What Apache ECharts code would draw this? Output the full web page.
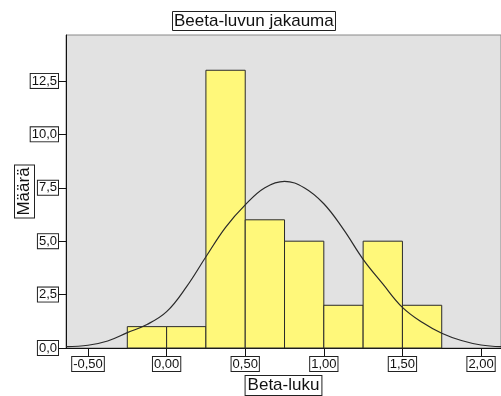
<!DOCTYPE html>
<html><head><meta charset="utf-8">
<script src="https://cdn.jsdelivr.net/npm/echarts@6/dist/echarts.min.js"></script>
<style>html,body{margin:0;padding:0;background:#fff}#c{width:501px;height:396px}</style>
</head><body><div id="c"></div>
<script>
const binStart = [-0.25, 0, 0.25, 0.5, 0.75, 1.0, 1.25, 1.5];
const binEnd   = [0, 0.25, 0.5, 0.75, 1.0, 1.25, 1.5, 1.75];
const counts   = [1, 1, 13, 6, 5, 2, 5, 2];
const curveX = [-0.64, -0.5, -0.375, -0.25, -0.125, 0, 0.125, 0.25, 0.375, 0.5, 0.625, 0.75, 0.875, 1.0, 1.125, 1.25, 1.375, 1.5, 1.625, 1.75, 1.875, 2.0, 2.13];
const curveY = [0.06, 0.13, 0.33, 0.72, 1.1, 1.7, 2.85, 4.27, 5.65, 6.7, 7.5, 7.8, 7.5, 6.75, 5.55, 4.15, 3.0, 1.9, 1.2, 0.69, 0.35, 0.14, 0.06];
const xTicks = [-0.5, 0, 0.5, 1.0, 1.5, 2.0];
const yTicks = [0, 2.5, 5, 7.5, 10, 12.5];

const fmt = (v, d) => v.toFixed(d).replace('.', ',');
const FONT = 'Arial, "Liberation Sans", sans-serif';
const boxLabel = {
  color: '#111', fontFamily: FONT, fontSize: 13,
  borderColor: '#222', borderWidth: 1, padding: [1, 1, 0, 1], backgroundColor: '#fff'
};

const chart = echarts.init(document.getElementById('c'), null, {renderer: 'canvas'});
chart.setOption({
  animation: false,
  backgroundColor: '#fff',
  title: {
    text: 'Beeta-luvun jakauma',
    left: 172, top: 11,
    padding: [1, 2, 0, 2],
    borderColor: '#222', borderWidth: 1,
    textStyle: {fontFamily: FONT, fontSize: 17, fontWeight: 'normal', color: '#111', lineHeight: 19}
  },
  grid: {
    left: 66, right: 0, top: 35, bottom: 48,
    containLabel: false, outerBoundsMode: 'none',
    show: true, backgroundColor: '#e2e2e2', borderColor: '#888', borderWidth: 1
  },
  xAxis: {
    type: 'value', min: -0.64, max: 2.127,
    name: 'Beta-luku', nameLocation: 'middle', nameGap: 28, nameMoveOverlap: false,
    nameTextStyle: Object.assign({}, boxLabel, {fontSize: 17, padding: [0, 2, 0, 2], lineHeight: 19}),
    axisLine: {show: true, onZero: false, lineStyle: {color: '#111', width: 1}},
    axisTick: {show: true, length: 10, customValues: xTicks, lineStyle: {color: '#111'}},
    axisLabel: Object.assign({}, boxLabel, {margin: 9, customValues: xTicks, formatter: v => fmt(v, 2)}),
    splitLine: {show: false}
  },
  yAxis: {
    type: 'value', min: 0, max: 14.65,
    name: 'Määrä', nameLocation: 'middle', nameGap: 32, nameRotate: 90, nameMoveOverlap: false,
    nameTextStyle: Object.assign({}, boxLabel, {fontSize: 17, padding: [0, 2, 0, 2], lineHeight: 19}),
    axisLine: {show: true, onZero: false, lineStyle: {color: '#111', width: 1}},
    axisTick: {show: true, length: 9, customValues: yTicks, lineStyle: {color: '#111'}},
    axisLabel: Object.assign({}, boxLabel, {margin: 8, customValues: yTicks, formatter: v => fmt(v, 1)}),
    splitLine: {show: false}
  },
  series: [
    {
      type: 'custom',
      data: binStart.map((s, i) => [s, binEnd[i], counts[i]]),
      encode: {x: [0, 1], y: 2},
      renderItem: (params, api) => {
        const p0 = api.coord([api.value(0), api.value(2)]);
        const p1 = api.coord([api.value(1), 0]);
        return {
          type: 'rect',
          shape: {x: p0[0], y: p0[1], width: p1[0] - p0[0], height: p1[1] - p0[1]},
          style: {fill: '#fff87a', stroke: '#2a2a2a', lineWidth: 1}
        };
      },
      z: 2
    },
    {
      type: 'line',
      data: curveX.map((x, i) => [x, curveY[i]]),
      smooth: 0.4,
      showSymbol: false,
      lineStyle: {color: '#2a2a2a', width: 1.2},
      z: 3
    }
  ]
});
</script>
</body></html>
